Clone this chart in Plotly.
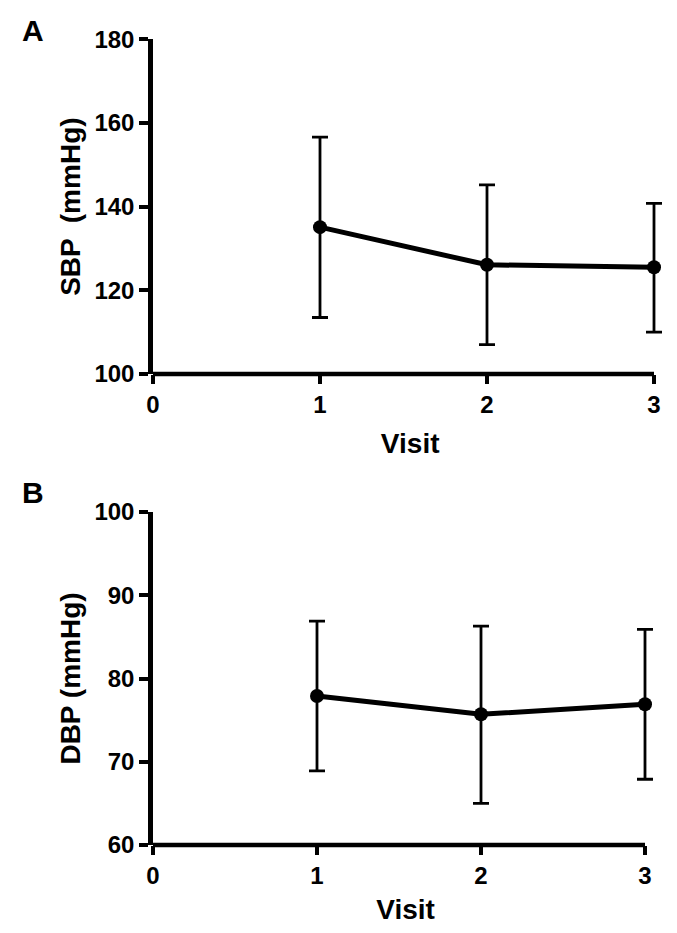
import plotly.graph_objects as go

visits = [1, 2, 3]
sbp_mean = [135.1, 126.1, 125.5]
sbp_upper = [156.6, 145.2, 140.8]
sbp_lower = [113.5, 107.0, 110.0]
dbp_mean = [77.9, 75.7, 76.9]
dbp_upper = [86.9, 86.3, 85.9]
dbp_lower = [68.9, 65.0, 67.9]
x_ticks = [0, 1, 2, 3]
sbp_ticks = [100, 120, 140, 160, 180]
dbp_ticks = [60, 70, 80, 90, 100]

OFF = 8                      # default page body margin
W, H = 677 - 2 * OFF, 933 - 2 * OFF
FONT = "Liberation Sans, Arial, sans-serif"
XMAX = 3.08  # a little room so the last error bar is not clipped

fig = go.Figure()

def add_series(mean, upper, lower, xa, ya):
    fig.add_trace(go.Scatter(
        x=visits, y=mean, mode="lines+markers",
        xaxis=xa, yaxis=ya, cliponaxis=False,
        line=dict(color="black", width=5),
        marker=dict(color="black", size=14),
        error_y=dict(type="data", symmetric=False,
                     array=[u - m for u, m in zip(upper, mean)],
                     arrayminus=[m - l for m, l in zip(mean, lower)],
                     color="black", thickness=2.8, width=8),
        showlegend=False,
    ))

add_series(sbp_mean, sbp_upper, sbp_lower, "x", "y")
add_series(dbp_mean, dbp_upper, dbp_lower, "x2", "y2")

def px_x(p):
    return (p - OFF) / W

def px_y(p):
    return 1 - (p - OFF) / H

def xdom(left, right3):
    right = left + (right3 - left) * XMAX / 3
    return [px_x(left), px_x(right)]

tickfont = dict(family=FONT, size=24, color="black", weight="bold")
titlefont = dict(family=FONT, size=28, color="black", weight="bold")

common = dict(
    ticks="outside", ticklen=9, tickwidth=4, tickcolor="black",
    showgrid=False, zeroline=False, automargin=False,
    tickfont=tickfont,
)

fig.update_layout(
    width=W, height=H,
    margin=dict(l=0, r=0, t=0, b=0),
    paper_bgcolor="white", plot_bgcolor="white",
    font=dict(family=FONT, color="black"),
    xaxis=dict(domain=xdom(153, 654), range=[0, XMAX], tickvals=x_ticks,
               anchor="y", showline=False,
               title=dict(text="Visit", standoff=16, font=titlefont),
               **common),
    yaxis=dict(domain=[px_y(374), px_y(39.3)], range=[100, 180], tickvals=sbp_ticks,
               anchor="x", showline=True, linecolor="black", linewidth=4.5,
               title=dict(text="SBP  (mmHg)", standoff=7, font=titlefont),
               **common),
    xaxis2=dict(domain=xdom(153, 645), range=[0, XMAX], tickvals=x_ticks,
                anchor="y2", showline=False,
                title=dict(text="Visit", standoff=16, font=titlefont),
                **common),
    yaxis2=dict(domain=[px_y(845), px_y(512)], range=[60, 100], tickvals=dbp_ticks,
                anchor="x2", showline=True, linecolor="black", linewidth=4.5,
                title=dict(text="DBP (mmHg)", standoff=7, font=titlefont),
                **common),
    shapes=[
        dict(type="line", xref="x", yref="y domain", x0=0, x1=3, y0=0, y1=0,
             line=dict(color="black", width=4.5)),
        dict(type="line", xref="x2", yref="y2 domain", x0=0, x1=3, y0=0, y1=0,
             line=dict(color="black", width=4.5)),
    ],
    annotations=[
        dict(text="A", x=px_x(33), y=px_y(30), xref="paper", yref="paper",
             xanchor="center", yanchor="middle",
             showarrow=False, font=dict(family=FONT, size=30, weight="bold")),
        dict(text="B", x=px_x(33), y=px_y(493), xref="paper", yref="paper",
             xanchor="center", yanchor="middle",
             showarrow=False, font=dict(family=FONT, size=30, weight="bold")),
    ],
)

fig.write_html("out.html")
